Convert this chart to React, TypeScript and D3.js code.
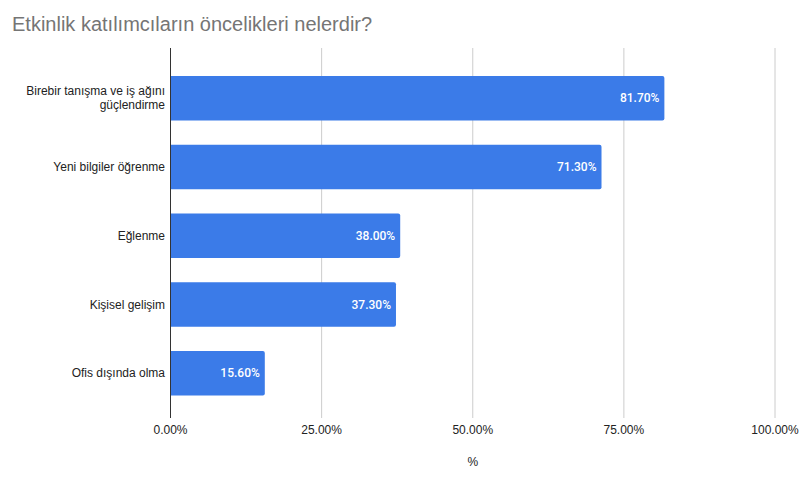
import React from "react";
import * as d3 from "d3";

const categories: string[][] = [
  ["Birebir tanışma ve iş ağını", "güçlendirme"],
  ["Yeni bilgiler öğrenme"],
  ["Eğlenme"],
  ["Kişisel gelişim"],
  ["Ofis dışında olma"],
];
const values: number[] = [81.7, 71.3, 38.0, 37.3, 15.6];
const ticks: number[] = [0, 25, 50, 75, 100];
const title = "Etkinlik katılımcıların öncelikleri nelerdir?";
const axisTitle = "%";

const W = 801;
const H = 481;
const FONT = "Arial, 'Liberation Sans', sans-serif";

export default function App() {
  const x = d3.scaleLinear().domain([0, 100]).range([170.5, 775]);
  const y = d3
    .scaleBand<number>()
    .domain(values.map((_, i) => i))
    .range([50, 421.5])
    .paddingInner(0.353)
    .paddingOuter(0.378);
  const plotTop = 48;
  const plotBottom = 418;
  const fmt = (v: number) => v.toFixed(2) + "%";
  const bw = y.bandwidth();

  return (
    <svg
      width={W}
      height={H}
      style={{ position: "absolute", left: 0, top: 0, background: "#fff" }}
      fontFamily={FONT}
    >
      <rect width={W} height={H} fill="#fff" />
      <text x={12} y={31} fontSize={20} fill="#757575">
        {title}
      </text>
      {ticks.map((t) =>
        t === 0 ? null : (
          <line
            key={t}
            x1={x(t)}
            x2={x(t)}
            y1={plotTop}
            y2={plotBottom}
            stroke="#cccccc"
            strokeWidth={1}
          />
        )
      )}
      {values.map((v, i) => {
        const y0 = y(i)!;
        const x0 = x(0);
        const x1 = x(v);
        const r = 2;
        const path = `M${x0},${y0} H${x1 - r} Q${x1},${y0} ${x1},${y0 + r} V${y0 + bw - r} Q${x1},${y0 + bw} ${x1 - r},${y0 + bw} H${x0} Z`;
        return (
          <g key={i}>
            <path d={path} fill="#3b7be8" />
            <text
              x={x1 - 5}
              y={y0 + bw / 2}
              dy="0.35em"
              textAnchor="end"
              fontSize={12}
              fontWeight={500}
              fontFamily="Roboto, Arial, sans-serif"
              fill="#ffffff"
            >
              {fmt(v)}
            </text>
            {categories[i].map((line, j) => (
              <text
                key={j}
                x={165}
                y={y0 + bw / 2 + (j - (categories[i].length - 1) / 2) * 14}
                dy="0.35em"
                textAnchor="end"
                fontSize={12}
                fill="#222222"
              >
                {line}
              </text>
            ))}
          </g>
        );
      })}
      <line
        x1={x(0)}
        x2={x(0)}
        y1={plotTop}
        y2={plotBottom}
        stroke="#333333"
        strokeWidth={1}
      />
      {ticks.map((t) => (
        <text
          key={t}
          x={x(t)}
          y={430}
          dy="0.35em"
          textAnchor="middle"
          fontSize={12}
          fill="#222222"
        >
          {fmt(t)}
        </text>
      ))}
      <text
        x={(x(0) + x(100)) / 2}
        y={462}
        dy="0.35em"
        textAnchor="middle"
        fontSize={12}
        fill="#222222"
      >
        {axisTitle}
      </text>
    </svg>
  );
}
